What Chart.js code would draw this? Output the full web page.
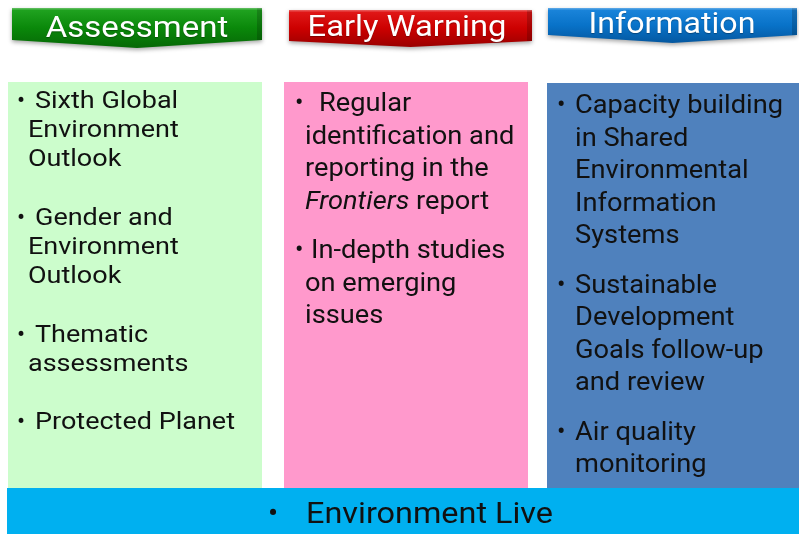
<!DOCTYPE html>
<html>
<head>
<meta charset="utf-8">
<script src="https://cdn.jsdelivr.net/npm/chart.js@4.4.1/dist/chart.umd.min.js"></script>
<style>
html,body{margin:0;padding:0;background:#fff;}
#wrap{width:799px;height:534px;position:relative;}
</style>
</head>
<body>
<div id="wrap"><canvas id="c" width="799" height="534"></canvas></div>
<script>
// ---- content ----
const headers = ['Assessment', 'Early Warning', 'Information'];
const assessmentItems = [
  ['Sixth Global', 'Environment', 'Outlook'],
  ['Gender and', 'Environment', 'Outlook'],
  ['Thematic', 'assessments'],
  ['Protected Planet']
];
const earlyWarningItems = [
  ['Regular', 'identification and', 'reporting in the', '*Frontiers* report'],
  ['In-depth studies', 'on emerging', 'issues']
];
const informationItems = [
  ['Capacity building', 'in Shared', 'Environmental', 'Information', 'Systems'],
  ['Sustainable', 'Development', 'Goals follow-up', 'and review'],
  ['Air quality', 'monitoring']
];
const footerItem = 'Environment Live';

// ---- layout (data units of the hidden 0..799 / 0..534 scales) ----
const columns = [
  {items: assessmentItems, box: [8, 82, 262, 488], fill: '#ccfdcc',
   ribbon: [12, 8, 262, 40, 48], ribbonColor: ['#22a522', '#0a880a', '#066806'], titleX: 137, titleY: 37, titleSize: 30, titleStretch: 1.10,
   font: 24, stretch: 1.125, start: 108, lh: 29.2, gap: 29.2, bulletX: 17, firstX: [35], restX: 28},
  {items: earlyWarningItems, box: [284, 82, 528, 488], fill: '#ff99cc',
   ribbon: [289, 10, 532, 41, 47], ribbonColor: ['#e21a1a', '#cc0000', '#9a0000'], titleX: 407, titleY: 36, titleSize: 30, titleStretch: 1.09,
   font: 25, stretch: 1.09, start: 111, lh: 32.5, gap: 17, bulletX: 295, firstX: [319, 311], restX: 305},
  {items: informationItems, box: [547, 83, 799, 488], fill: '#4f81bd',
   ribbon: [548, 8, 797, 35, 43], ribbonColor: ['#1c86dc', '#0872c8', '#0558a0'], titleX: 672, titleY: 33, titleSize: 30, titleStretch: 1.07,
   font: 25, stretch: 1.09, start: 113, lh: 32.5, gap: 17, bulletX: 557, firstX: [575], restX: 575}
];
const footer = {box: [7, 488, 799, 534], fill: '#00b0f0', bulletX: 268, textX: 306, y: 523, size: 30, stretch: 1.08};

const FONT = 'Roboto, "Noto Sans", sans-serif';

function drawLine(ctx, text, x, y, size, stretch) {
  const parts = text.split('*');
  let cx = x;
  parts.forEach((p, i) => {
    if (!p) return;
    ctx.font = (i % 2 ? 'italic ' : '') + size + 'px ' + FONT;
    ctx.save();
    ctx.translate(cx, y);
    ctx.scale(stretch, 1);
    ctx.fillText(p, 0, 0);
    ctx.restore();
    cx += ctx.measureText(p).width * stretch;
  });
}

const diagramPlugin = {
  id: 'diagram',
  afterDatasetsDraw(chart) {
    const ctx = chart.ctx;
    const sx = chart.scales.x, sy = chart.scales.y;
    const X = v => sx.getPixelForValue(v);
    const Y = v => sy.getPixelForValue(v);
    ctx.save();
    ctx.textBaseline = 'alphabetic';

    // boxes
    columns.forEach(c => {
      ctx.fillStyle = c.fill;
      ctx.fillRect(X(c.box[0]), Y(c.box[1]), X(c.box[2]) - X(c.box[0]), Y(c.box[3]) - Y(c.box[1]));
    });
    ctx.fillStyle = footer.fill;
    ctx.fillRect(X(footer.box[0]), Y(footer.box[1]), X(footer.box[2]) - X(footer.box[0]), Y(footer.box[3]) - Y(footer.box[1]));

    // ribbons
    columns.forEach((c, i) => {
      const [x0, y0, x1, y1, yp] = c.ribbon;
      const mid = (x0 + x1) / 2;
      const path = () => {
        ctx.beginPath();
        ctx.moveTo(X(x0), Y(y0));
        ctx.lineTo(X(x1), Y(y0));
        ctx.lineTo(X(x1), Y(y1));
        ctx.lineTo(X(mid), Y(yp));
        ctx.lineTo(X(x0), Y(y1));
        ctx.closePath();
      };
      ctx.save();
      ctx.shadowColor = 'rgba(0,0,0,0.35)';
      ctx.shadowBlur = 4;
      ctx.shadowOffsetY = 2;
      const g = ctx.createLinearGradient(0, Y(y0), 0, Y(yp));
      g.addColorStop(0, c.ribbonColor[0]);
      g.addColorStop(0.5, c.ribbonColor[1]);
      g.addColorStop(1, c.ribbonColor[2]);
      ctx.fillStyle = g;
      path();
      ctx.fill();
      ctx.restore();
      ctx.fillStyle = 'rgba(0,0,0,0.18)';
      ctx.fillRect(X(x1) - 5, Y(y0), 5, Y(y1) - Y(y0));
      ctx.fillStyle = 'rgba(255,255,255,0.25)';
      ctx.fillRect(X(x0), Y(y0), X(x1) - X(x0), 1.5);
      // title
      ctx.fillStyle = '#ffffff';
      ctx.textAlign = 'center';
      ctx.font = c.titleSize + 'px ' + FONT;
      ctx.save();
      ctx.translate(X(c.titleX), Y(c.titleY));
      ctx.scale(c.titleStretch, 1);
      ctx.shadowColor = 'rgba(0,0,0,0.3)';
      ctx.shadowBlur = 1;
      ctx.shadowOffsetY = 1;
      ctx.fillText(headers[i], 0, 0);
      ctx.restore();
    });

    // bullet text
    ctx.textAlign = 'left';
    ctx.fillStyle = '#111111';
    columns.forEach(c => {
      let y = c.start;
      c.items.forEach((item, k) => {
        drawLine(ctx, '\u2022', X(c.bulletX), Y(y), c.font, 1);
        item.forEach((line, j) => {
          const x = j === 0 ? (c.firstX[k] !== undefined ? c.firstX[k] : c.firstX[c.firstX.length - 1]) : c.restX;
          drawLine(ctx, line, X(x), Y(y), c.font, c.stretch);
          y += c.lh;
        });
        y += c.gap;
      });
    });

    // footer
    drawLine(ctx, '\u2022', X(footer.bulletX), Y(footer.y), footer.size, 1);
    drawLine(ctx, footerItem, X(footer.textX), Y(footer.y), footer.size, footer.stretch);
    ctx.restore();
  }
};

new Chart(document.getElementById('c'), {
  type: 'scatter',
  data: {datasets: [{data: [], pointRadius: 0}]},
  options: {
    responsive: false,
    animation: false,
    events: [],
    layout: {padding: 0},
    plugins: {legend: {display: false}, tooltip: {enabled: false}, title: {display: false}},
    scales: {
      x: {type: 'linear', min: 0, max: 799, display: false},
      y: {type: 'linear', min: 0, max: 534, reverse: true, display: false}
    }
  },
  plugins: [diagramPlugin]
});
</script>
</body>
</html>
